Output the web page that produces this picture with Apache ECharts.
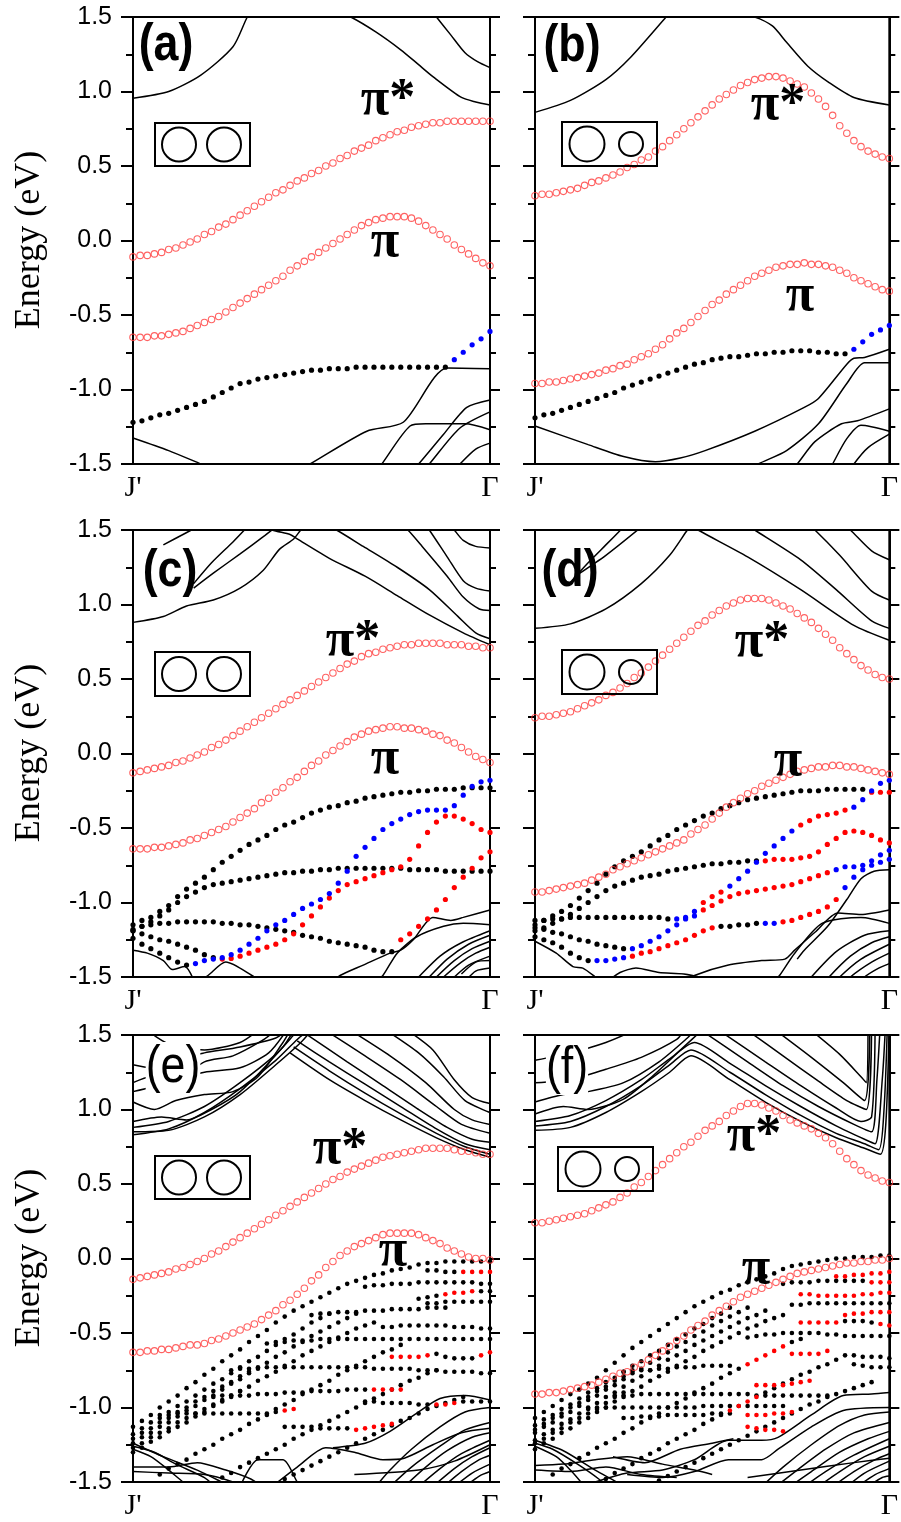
<!DOCTYPE html>
<html><head><meta charset="utf-8">
<script src="https://cdn.jsdelivr.net/npm/echarts/dist/echarts.min.js"></script>
<style>html,body{margin:0;padding:0;background:#fff}#c{width:901px;height:1522px}</style>
</head><body><div id="c"></div>
<script>
function pad(n, vals){ return new Array(n).fill(null).concat(vals); }
const kLabels = ["J'", "Γ"];
const yLabelsMin = -1.5, yLabelsMax = 1.5, yStep = 0.5;

// ---------- (a) ----------
const aPiStar = [-0.11,-0.10,-0.10,-0.09,-0.08,-0.06,-0.05,-0.03,-0.01,0.01,0.04,0.06,0.09,0.11,0.14,0.17,0.20,0.23,0.26,0.29,0.32,0.34,0.37,0.40,0.42,0.45,0.47,0.50,0.52,0.55,0.57,0.60,0.62,0.64,0.67,0.69,0.71,0.73,0.74,0.76,0.77,0.78,0.79,0.79,0.80,0.80,0.80,0.80,0.80,0.80,0.80];
const aPi = [-0.65,-0.65,-0.65,-0.64,-0.64,-0.63,-0.62,-0.61,-0.59,-0.57,-0.55,-0.53,-0.51,-0.48,-0.45,-0.42,-0.39,-0.36,-0.33,-0.30,-0.27,-0.24,-0.20,-0.17,-0.14,-0.11,-0.08,-0.05,-0.02,0.01,0.04,0.07,0.10,0.12,0.14,0.15,0.16,0.16,0.16,0.15,0.13,0.10,0.07,0.04,0.01,-0.03,-0.06,-0.09,-0.12,-0.15,-0.17];
const aBand = [-1.22,-1.21,-1.19,-1.17,-1.16,-1.14,-1.12,-1.10,-1.08,-1.05,-1.02,-0.99,-0.96,-0.95,-0.93,-0.92,-0.91,-0.90,-0.89,-0.88,-0.87,-0.87,-0.86,-0.86,-0.86,-0.85,-0.85,-0.85,-0.85,-0.85,-0.85,-0.85,-0.85,-0.85,-0.85,-0.85,-0.80,-0.75,-0.70,-0.66,-0.61];
const aBandCol = [[36,40,'b']];
const aC1 = [[0,0.955],[0.1,1.0],[0.19,1.11],[0.28,1.30],[0.32,1.5],[0.35,1.62]];
const aC2 = [[0.55,1.56],[0.61,1.5],[0.68,1.40],[0.75,1.28],[0.80,1.18],[0.84,1.10],[0.92,0.96],[0.96,0.93],[1.0,0.91]];
const aC3 = [[0.83,1.56],[0.85,1.5],[0.89,1.38],[0.93,1.26],[0.965,1.2],[1.0,1.16]];
const aV1 = [[0,-1.325],[0.1,-1.41],[0.19,-1.5],[0.25,-1.56]];
const aV2 = [[0.45,-1.56],[0.496,-1.5],[0.655,-1.28],[0.757,-1.22],[0.88,-0.855],[1.0,-0.86]];
const aV3 = [[0.68,-1.55],[0.697,-1.5],[0.776,-1.245],[0.82,-1.23],[0.93,-1.23],[1.0,-1.27]];
const aV4 = [[0.78,-1.55],[0.80,-1.5],[0.87,-1.30],[0.935,-1.12],[1.0,-1.07]];
const aV5 = [[0.81,-1.55],[0.83,-1.5],[0.915,-1.26],[1.0,-1.15]];
const aV6 = [[0.9,-1.55],[0.916,-1.5],[0.96,-1.40],[1.0,-1.36]];

// ---------- (b) ----------
const bPiStar = [0.30,0.31,0.31,0.32,0.33,0.34,0.35,0.37,0.39,0.40,0.42,0.44,0.46,0.49,0.51,0.54,0.56,0.60,0.63,0.67,0.71,0.75,0.79,0.83,0.87,0.91,0.95,0.98,1.01,1.04,1.06,1.08,1.09,1.10,1.10,1.09,1.07,1.05,1.03,0.99,0.95,0.90,0.84,0.77,0.72,0.67,0.63,0.60,0.58,0.56,0.55];
const bPi = [-0.96,-0.96,-0.95,-0.95,-0.94,-0.93,-0.92,-0.91,-0.90,-0.89,-0.87,-0.86,-0.84,-0.83,-0.80,-0.78,-0.76,-0.73,-0.70,-0.66,-0.62,-0.59,-0.55,-0.51,-0.47,-0.43,-0.40,-0.36,-0.33,-0.30,-0.27,-0.24,-0.22,-0.20,-0.18,-0.17,-0.16,-0.16,-0.15,-0.16,-0.16,-0.17,-0.18,-0.20,-0.22,-0.25,-0.27,-0.29,-0.31,-0.33,-0.34];
const bBand = [-1.19,-1.17,-1.16,-1.14,-1.12,-1.10,-1.08,-1.06,-1.04,-1.02,-0.99,-0.97,-0.95,-0.93,-0.91,-0.89,-0.87,-0.85,-0.83,-0.82,-0.80,-0.79,-0.78,-0.78,-0.77,-0.76,-0.76,-0.75,-0.75,-0.74,-0.74,-0.74,-0.75,-0.75,-0.76,-0.76,-0.73,-0.68,-0.63,-0.60,-0.57];
const bBandCol = [[36,40,'b']];
const bC1 = [[0,0.86],[0.1,0.94],[0.2,1.08],[0.27,1.23],[0.37,1.5],[0.4,1.58]];
const bC2 = [[0.55,1.53],[0.62,1.5],[0.67,1.44],[0.71,1.33],[0.77,1.17],[0.83,1.06],[0.9,0.96],[1.0,0.91]];
const bV1 = [[0,-1.245],[0.15,-1.37],[0.25,-1.45],[0.34,-1.485],[0.41,-1.46],[0.48,-1.41],[0.62,-1.28],[0.76,-1.12],[0.8,-1.06],[0.88,-0.83],[0.9,-0.79],[0.93,-0.785],[1.0,-0.73]];
const bV2 = [[0.6,-1.55],[0.63,-1.5],[0.71,-1.41],[0.80,-1.23],[0.88,-0.96],[0.93,-0.82],[1.0,-0.82]];
const bV3 = [[0.72,-1.55],[0.74,-1.5],[0.79,-1.35],[0.865,-1.23],[0.91,-1.21],[1.0,-1.13]];
const bV4 = [[0.83,-1.55],[0.84,-1.5],[0.88,-1.33],[0.92,-1.24],[1.0,-1.28]];
const bV5 = [[0.89,-1.55],[0.90,-1.5],[0.94,-1.39],[1.0,-1.30]];

// ---------- (c) ----------
const cPiStar = [-0.13,-0.12,-0.11,-0.10,-0.09,-0.08,-0.06,-0.05,-0.03,-0.01,0.01,0.04,0.06,0.09,0.12,0.15,0.18,0.21,0.24,0.27,0.30,0.33,0.36,0.39,0.42,0.45,0.48,0.51,0.54,0.57,0.60,0.62,0.65,0.67,0.68,0.70,0.71,0.72,0.73,0.73,0.74,0.74,0.74,0.74,0.73,0.73,0.73,0.72,0.72,0.71,0.71];
const cPi = [-0.64,-0.64,-0.64,-0.63,-0.63,-0.62,-0.61,-0.60,-0.58,-0.57,-0.55,-0.53,-0.51,-0.49,-0.46,-0.43,-0.40,-0.37,-0.33,-0.30,-0.26,-0.23,-0.19,-0.16,-0.12,-0.08,-0.05,-0.01,0.02,0.05,0.08,0.11,0.13,0.15,0.16,0.17,0.18,0.18,0.17,0.17,0.16,0.15,0.13,0.12,0.09,0.07,0.04,0.01,-0.02,-0.04,-0.06];
const cB1 = [-1.15,-1.12,-1.10,-1.06,-1.02,-0.96,-0.91,-0.87,-0.83,-0.78,-0.73,-0.69,-0.65,-0.61,-0.58,-0.55,-0.51,-0.48,-0.46,-0.43,-0.40,-0.38,-0.36,-0.35,-0.33,-0.32,-0.30,-0.29,-0.28,-0.27,-0.26,-0.26,-0.25,-0.25,-0.24,-0.24,-0.24,-0.23,-0.23,-0.23,-0.23];
const cB2 = [-1.19,-1.16,-1.13,-1.09,-1.05,-1.00,-0.96,-0.93,-0.90,-0.88,-0.87,-0.86,-0.85,-0.84,-0.83,-0.82,-0.81,-0.80,-0.80,-0.79,-0.79,-0.78,-0.78,-0.77,-0.77,-0.77,-0.77,-0.77,-0.77,-0.77,-0.77,-0.78,-0.78,-0.78,-0.78,-0.79,-0.79,-0.79,-0.79,-0.79,-0.79];
const cB3 = [-1.18,-1.16,-1.15,-1.14,-1.14,-1.13,-1.13,-1.13,-1.13,-1.13,-1.14,-1.14,-1.15,-1.15,-1.16,-1.17,-1.18,-1.19,-1.20,-1.22,-1.23,-1.24,-1.26,-1.27,-1.28,-1.29,-1.30,-1.32,-1.33,-1.33,-1.25,-1.21,-1.16,-1.11,-1.05,-0.98,-0.90,-0.83,-0.77,-0.70,-0.66];
const cB3Col = [[30,40,'r']];
const cB4 = [-1.19,-1.21,-1.23,-1.25,-1.26,-1.28,-1.30,-1.32,-1.35,-1.37,-1.38,-1.375,-1.36,-1.34,-1.32,-1.30,-1.28,-1.25,-1.21,-1.15,-1.09,-1.03,-0.97,-0.92,-0.88,-0.86,-0.84,-0.82,-0.80,-0.78,-0.76,-0.71,-0.62,-0.53,-0.46,-0.42,-0.42,-0.44,-0.47,-0.51,-0.53];
const cB4Col = [[10,40,'r']];
const cB5 = [-1.24,-1.28,-1.31,-1.34,-1.37,-1.40,-1.42,-1.41,-1.39,-1.38,-1.37,-1.35,-1.32,-1.28,-1.24,-1.19,-1.15,-1.12,-1.08,-1.04,-1.01,-0.98,-0.94,-0.87,-0.79,-0.69,-0.63,-0.57,-0.51,-0.47,-0.44,-0.41,-0.39,-0.38,-0.38,-0.38,-0.35,-0.28,-0.22,-0.19,-0.18];
const cB5Col = [[7,40,'b']];
const cT1 = [[0,0.88],[0.085,0.92],[0.15,0.99],[0.225,1.03],[0.30,1.11],[0.365,1.23],[0.41,1.37],[0.45,1.44],[0.47,1.5],[0.49,1.55]];
const cT2 = [[0.34,1.56],[0.39,1.50],[0.44,1.47],[0.46,1.44],[0.55,1.31],[0.65,1.19],[0.74,1.06],[0.83,0.93],[0.925,0.81],[1.0,0.73]];
const cT3 = [[0.52,1.56],[0.57,1.5],[0.645,1.39],[0.74,1.25],[0.83,1.10],[0.91,0.92],[0.96,0.81],[1.0,0.77]];
const cT4 = [[0.74,1.56],[0.77,1.5],[0.81,1.39],[0.88,1.19],[0.925,1.05],[0.97,0.97],[1.0,0.96]];
const cT5 = [[0.81,1.56],[0.83,1.5],[0.88,1.32],[0.925,1.16],[0.96,1.11],[1.0,1.09]];
const cT6 = [[0.88,1.56],[0.90,1.5],[0.925,1.43],[0.96,1.39],[1.0,1.38]];
const cT7 = [[0.17,1.11],[0.225,1.21],[0.30,1.34],[0.365,1.455],[0.40,1.52]];
const cT8 = [[0.17,1.14],[0.22,1.28],[0.28,1.42],[0.32,1.52]];
const cT9 = [[0.085,1.40],[0.14,1.47],[0.18,1.52]];
const cV1 = [[0,-1.32],[0.04,-1.34],[0.085,-1.39],[0.11,-1.45],[0.145,-1.43],[0.17,-1.52]];
const cV2 = [[0.19,-1.52],[0.21,-1.49],[0.26,-1.40],[0.34,-1.50],[0.36,-1.53]];
const cV3 = [[0.56,-1.53],[0.58,-1.49],[0.645,-1.42],[0.72,-1.34],[0.75,-1.32],[0.785,-1.25],[0.84,-1.10],[0.89,-1.12],[0.925,-1.10],[1.0,-1.05]];
const cV4 = [[0.68,-1.53],[0.70,-1.49],[0.74,-1.34],[0.795,-1.23],[0.87,-1.16],[0.925,-1.14],[1.0,-1.15]];
const cV5 = [[0.79,-1.53],[0.80,-1.5],[0.86,-1.36],[0.92,-1.27],[1.0,-1.19]];
const cV6 = [[0.82,-1.53],[0.83,-1.5],[0.88,-1.38],[0.94,-1.28],[1.0,-1.22]];
const cV7 = [[0.84,-1.53],[0.85,-1.5],[0.90,-1.39],[0.95,-1.31],[1.0,-1.26]];
const cV8 = [[0.86,-1.53],[0.87,-1.5],[0.92,-1.40],[0.96,-1.34],[1.0,-1.30]];
const cV9 = [[0.89,-1.53],[0.90,-1.5],[0.94,-1.42],[1.0,-1.36]];
const cV10 = [[0.92,-1.48],[0.96,-1.40],[1.0,-1.39]];
const cV11 = [[0.93,-1.53],[0.96,-1.46],[1.0,-1.44]];

// ---------- (d) ----------
const dPiStar = [0.24,0.25,0.25,0.26,0.27,0.28,0.30,0.32,0.34,0.36,0.39,0.41,0.44,0.47,0.51,0.54,0.58,0.62,0.66,0.70,0.74,0.78,0.82,0.86,0.89,0.93,0.96,0.99,1.01,1.03,1.04,1.04,1.04,1.03,1.01,0.99,0.97,0.94,0.91,0.88,0.84,0.80,0.76,0.71,0.67,0.63,0.59,0.56,0.53,0.51,0.50];
const dPi = [-0.93,-0.93,-0.92,-0.91,-0.90,-0.89,-0.88,-0.87,-0.85,-0.83,-0.81,-0.78,-0.76,-0.74,-0.72,-0.70,-0.68,-0.66,-0.64,-0.62,-0.60,-0.58,-0.54,-0.51,-0.48,-0.44,-0.40,-0.36,-0.33,-0.30,-0.27,-0.25,-0.22,-0.20,-0.18,-0.16,-0.14,-0.12,-0.11,-0.10,-0.09,-0.09,-0.08,-0.08,-0.09,-0.09,-0.10,-0.11,-0.12,-0.13,-0.14];
const dB1 = [-1.15,-1.12,-1.09,-1.06,-1.02,-0.97,-0.92,-0.87,-0.81,-0.76,-0.72,-0.69,-0.66,-0.62,-0.58,-0.55,-0.51,-0.48,-0.45,-0.42,-0.40,-0.37,-0.35,-0.33,-0.31,-0.30,-0.29,-0.28,-0.27,-0.26,-0.25,-0.25,-0.25,-0.24,-0.24,-0.24,-0.24,-0.24,-0.26,-0.26,-0.26];
const dB1Col = [[38,40,'r']];
const dB2 = [-1.19,-1.17,-1.14,-1.11,-1.08,-1.04,-1.00,-0.96,-0.92,-0.89,-0.87,-0.85,-0.83,-0.82,-0.81,-0.79,-0.78,-0.77,-0.76,-0.75,-0.74,-0.74,-0.73,-0.73,-0.72,-0.72,-0.72,-0.71,-0.71,-0.71,-0.70,-0.69,-0.66,-0.61,-0.57,-0.53,-0.52,-0.53,-0.55,-0.58,-0.60];
const dB2Col = [[26,40,'r']];
const dB3 = [-1.17,-1.18,-1.20,-1.21,-1.23,-1.25,-1.26,-1.28,-1.29,-1.30,-1.31,-1.31,-1.29,-1.26,-1.23,-1.19,-1.15,-1.11,-1.06,-1.00,-0.96,-0.93,-0.89,-0.84,-0.79,-0.73,-0.67,-0.62,-0.57,-0.52,-0.48,-0.45,-0.42,-0.41,-0.40,-0.38,-0.36,-0.31,-0.25,-0.20,-0.18];
const dB3Col = [[11,18,'b'],[19,21,'r'],[22,29,'b'],[30,35,'r'],[36,40,'b']];
const dB4 = [-1.23,-1.25,-1.27,-1.30,-1.34,-1.37,-1.39,-1.39,-1.39,-1.38,-1.37,-1.36,-1.34,-1.33,-1.31,-1.29,-1.27,-1.25,-1.22,-1.19,-1.17,-1.16,-1.16,-1.15,-1.15,-1.14,-1.14,-1.14,-1.13,-1.12,-1.10,-1.08,-1.06,-1.03,-0.98,-0.90,-0.83,-0.78,-0.75,-0.73,-0.71];
const dB4Col = [[7,10,'b'],[11,20,'r'],[26,27,'b'],[28,34,'r'],[35,40,'b']];
const dB5 = [-1.12,-1.12,-1.11,-1.11,-1.10,-1.10,-1.10,-1.10,-1.10,-1.10,-1.10,-1.10,-1.10,-1.10,-1.10,-1.11,-1.11,-1.10,-1.09,-1.05,-1.02,-0.99,-0.96,-0.94,-0.93,-0.92,-0.91,-0.90,-0.89,-0.88,-0.86,-0.84,-0.82,-0.80,-0.78,-0.76,-0.76,-0.75,-0.72,-0.68,-0.65];
const dB5Col = [[16,18,'b'],[19,33,'r'],[34,40,'b']];
const dT1 = [[0,0.84],[0.1,0.87],[0.2,0.97],[0.3,1.14],[0.38,1.33],[0.43,1.5],[0.45,1.56]];
const dT2 = [[0.1,1.15],[0.15,1.28],[0.2,1.40],[0.25,1.52]];
const dT3 = [[0.12,1.2],[0.2,1.33],[0.3,1.52]];
const dT4 = [[0.42,1.56],[0.46,1.5],[0.6,1.32],[0.75,1.10],[0.9,0.86],[1.0,0.76]];
const dT5 = [[0.58,1.56],[0.62,1.5],[0.75,1.30],[0.85,1.10],[0.95,0.89],[1.0,0.84]];
const dT6 = [[0.76,1.56],[0.79,1.5],[0.86,1.33],[0.95,1.09],[1.0,1.03]];
const dT7 = [[0.86,1.56],[0.89,1.5],[0.95,1.36],[1.0,1.30]];
const dV1 = [[0,-1.26],[0.06,-1.34],[0.107,-1.43],[0.135,-1.44],[0.17,-1.5],[0.19,-1.54]];
const dV2 = [[0.2,-1.54],[0.24,-1.47],[0.285,-1.44],[0.35,-1.47],[0.42,-1.48],[0.5,-1.52]];
const dV3 = [[0.42,-1.54],[0.45,-1.49],[0.546,-1.42],[0.64,-1.39],[0.705,-1.38],[0.733,-1.32],[0.79,-1.20],[0.855,-1.07],[0.92,-1.08],[1.0,-1.05]];
const dV4 = [[0.74,-1.38],[0.76,-1.32],[0.826,-1.16],[0.88,-0.98],[0.92,-0.84],[0.957,-0.79],[1.0,-0.78]];
const dV5 = [[0.67,-1.54],[0.69,-1.49],[0.733,-1.34],[0.81,-1.14],[0.92,-1.10],[1.0,-1.14]];
const dV6 = [[0.77,-1.54],[0.78,-1.5],[0.85,-1.33],[0.93,-1.22],[1.0,-1.19]];
const dV7 = [[0.82,-1.54],[0.83,-1.5],[0.89,-1.36],[0.95,-1.27],[1.0,-1.23]];
const dV8 = [[0.85,-1.54],[0.86,-1.5],[0.92,-1.38],[1.0,-1.28]];
const dV9 = [[0.88,-1.54],[0.89,-1.5],[0.95,-1.40],[1.0,-1.34]];
const dV10 = [[0.92,-1.54],[0.93,-1.5],[0.97,-1.44],[1.0,-1.41]];

// ---------- (e) ----------
const ePiStar = [-0.14,-0.13,-0.12,-0.11,-0.10,-0.09,-0.07,-0.06,-0.04,-0.02,0.00,0.03,0.05,0.08,0.11,0.14,0.17,0.20,0.23,0.26,0.29,0.32,0.35,0.38,0.41,0.44,0.47,0.50,0.53,0.55,0.58,0.60,0.62,0.64,0.66,0.68,0.69,0.70,0.71,0.72,0.73,0.74,0.74,0.74,0.74,0.73,0.72,0.72,0.71,0.70,0.70];
const ePi = [-0.63,-0.63,-0.62,-0.62,-0.61,-0.61,-0.60,-0.59,-0.58,-0.58,-0.57,-0.55,-0.54,-0.52,-0.50,-0.48,-0.46,-0.44,-0.41,-0.38,-0.35,-0.31,-0.28,-0.24,-0.20,-0.15,-0.11,-0.06,-0.02,0.02,0.05,0.08,0.10,0.12,0.14,0.16,0.17,0.17,0.17,0.17,0.16,0.14,0.12,0.10,0.07,0.05,0.03,0.01,0.00,0.00,-0.01];
const eTop = [-1.13,-1.09,-1.05,-1.00,-0.96,-0.92,-0.87,-0.83,-0.78,-0.74,-0.69,-0.65,-0.61,-0.56,-0.52,-0.48,-0.43,-0.39,-0.35,-0.32,-0.29,-0.26,-0.23,-0.20,-0.17,-0.15,-0.13,-0.11,-0.10,-0.08,-0.07,-0.06,-0.04,-0.03,-0.03,-0.02,-0.02,-0.02,-0.02,-0.02,-0.02];
const eH2 = pad(33, [-0.08,-0.08,-0.09,-0.09,-0.09,-0.09,-0.09,-0.09]);
const eH3 = pad(26, [-0.19,-0.18,-0.18,-0.17,-0.17,-0.17,-0.16,-0.16,-0.16,-0.16,-0.16,-0.16,-0.16,-0.17,-0.17]);
const eH4 = pad(32, [-0.27,-0.26,-0.25,-0.24,-0.23,-0.23,-0.22,-0.22,-0.22]);
const eH5 = pad(33, [-0.30,-0.30,-0.29,-0.29,-0.29,-0.29,-0.29,-0.29]);
const eH6 = pad(20, [-0.38,-0.37,-0.37,-0.36,-0.36,-0.36,-0.35,-0.35,-0.35,-0.34,-0.34,-0.34,-0.34,-0.33,-0.33,-0.33]);
const eH7 = pad(28, [-0.46,-0.46,-0.45,-0.45,-0.45,-0.45,-0.45,-0.45,-0.46,-0.46,-0.46,-0.47,-0.47]);
const eH8 = pad(15, [-0.57,-0.56,-0.56,-0.55,-0.55,-0.55,-0.54,-0.54,-0.54,-0.54,-0.54,-0.54,-0.54,-0.54,-0.54,-0.54,-0.54,-0.54,-0.54,-0.54,-0.54,-0.54,-0.54,-0.54,-0.54,-0.54]);
const eH9 = pad(29, [-0.66,-0.66,-0.66,-0.66,-0.65,-0.64,-0.66,-0.67,-0.67,-0.67,-0.65,-0.63]);
const eH10 = pad(11, [-0.75,-0.74,-0.74,-0.73,-0.73,-0.73,-0.73,-0.73,-0.73,-0.73,-0.73,-0.73,-0.73,-0.73,-0.73,-0.73,-0.74,-0.74,-0.74,-0.74,-0.74,-0.75,-0.75,-0.75,-0.76,-0.76,-0.76,-0.76,-0.77,-0.77]);
const eH11 = pad(9, [-0.93,-0.92,-0.92,-0.92,-0.92,-0.91,-0.91,-0.91,-0.90,-0.90,-0.90,-0.89,-0.89,-0.89,-0.89,-0.88,-0.88,-0.88,-0.88,-0.88,-0.88,-0.88]);
const eH12 = pad(26, [-0.96,-0.96,-0.97,-0.97,-0.97,-0.97,-0.98,-0.98,-0.98,-0.98,-0.97,-0.96,-0.96,-0.96,-0.96]);
const eH13 = pad(3, [-1.05,-1.05,-1.04,-1.04,-1.04,-1.04,-1.04,-1.04,-1.04,-1.04,-1.04,-1.04,-1.04,-1.03,-1.02,-1.01]);
const eH14 = pad(17, [-1.13,-1.13,-1.13,-1.13,-1.14,-1.14,-1.14,-1.14,-1.15,-1.14,-1.13,-1.12,-1.11]);
const eD1 = [-1.18,-1.14,-1.10,-1.07,-1.03,-0.99,-0.96,-0.92,-0.88,-0.84,-0.81,-0.77,-0.73,-0.69,-0.66,-0.62,-0.58,-0.54,-0.51,-0.47,-0.43,-0.40,-0.37];
const eD2 = [-1.24,-1.20,-1.17,-1.13,-1.10,-1.06,-1.02,-0.99,-0.95,-0.92,-0.88,-0.84,-0.81,-0.77,-0.74,-0.70,-0.66,-0.63,-0.59,-0.56,-0.52,-0.49,-0.46,-0.43,-0.40,-0.37];
const eD3 = [-1.30,-1.27,-1.23,-1.20,-1.16,-1.13,-1.10,-1.06,-1.03,-0.99,-0.96,-0.93,-0.89,-0.86,-0.82,-0.79,-0.76,-0.72,-0.69,-0.65,-0.62,-0.59,-0.56,-0.53,-0.50,-0.47,-0.45,-0.43];
const eD4 = pad(3, [-1.45,-1.41,-1.38,-1.35,-1.31,-1.28,-1.25,-1.21,-1.18,-1.15,-1.11,-1.08,-1.05,-1.01,-0.98,-0.95,-0.91,-0.88,-0.85,-0.82,-0.78,-0.75,-0.72,-0.69,-0.66,-0.63,-0.61,-0.58]);
const eD5 = pad(10, [-1.47,-1.44,-1.40,-1.37,-1.34,-1.31,-1.28,-1.25,-1.21,-1.18,-1.15,-1.12,-1.09,-1.06,-1.03,-1.00,-0.97,-0.94,-0.91,-0.88,-0.85,-0.82,-0.80,-0.77,-0.75]);
const eD6 = pad(17, [-1.48,-1.45,-1.42,-1.39,-1.36,-1.33,-1.30,-1.27,-1.24,-1.21,-1.18,-1.15,-1.12,-1.09,-1.07,-1.04,-1.01,-0.99,-0.97,-0.95,-0.93]);
const eD7 = [-1.21,-1.17,-1.14,-1.10,-1.07,-1.03,-1.00,-0.96,-0.93,-0.89,-0.86,-0.83,-0.79,-0.76];
const eD8 = [-1.27,-1.24,-1.20,-1.17,-1.14,-1.10,-1.07,-1.04,-1.01,-0.98,-0.95,-0.92,-0.89];
const eT1 = [[0,0.85],[0.1,0.86],[0.2,0.95],[0.3,1.10],[0.4,1.30],[0.47,1.45],[0.5,1.53]];
const eT2 = [[0,0.83],[0.1,0.87],[0.2,0.98],[0.3,1.14],[0.4,1.33],[0.46,1.47],[0.49,1.53]];
const eT3 = [[0,0.88],[0.1,0.92],[0.2,1.02],[0.3,1.18],[0.4,1.37],[0.45,1.5],[0.46,1.53]];
const eT4 = [[0,0.92],[0.08,0.95],[0.15,0.93],[0.22,1.0],[0.3,1.12],[0.42,1.42],[0.45,1.53]];
const eT5 = [[0,1.05],[0.06,1.0],[0.12,1.06],[0.2,1.10],[0.28,1.12],[0.35,1.22],[0.42,1.45],[0.44,1.53]];
const eT6 = [[0,1.12],[0.1,1.18],[0.2,1.25],[0.3,1.28],[0.38,1.38],[0.43,1.53]];
const eT7 = [[0,1.30],[0.05,1.28],[0.1,1.33],[0.2,1.38],[0.3,1.42],[0.4,1.48],[0.43,1.53]];
const eT8 = [[0.04,1.53],[0.1,1.44],[0.2,1.40],[0.3,1.45],[0.35,1.53]];
const eT9 = [[0,1.18],[0.05,1.22],[0.12,1.2],[0.2,1.32],[0.28,1.36],[0.36,1.46],[0.4,1.53]];
const eR1 = [[0.44,1.38],[0.55,1.20],[0.65,1.06],[0.75,0.93],[0.85,0.81],[0.93,0.73],[1.0,0.68]];
const eR2 = [[0.45,1.42],[0.55,1.26],[0.65,1.11],[0.75,0.97],[0.85,0.84],[0.93,0.75],[1.0,0.70]];
const eR3 = [[0.46,1.46],[0.55,1.32],[0.65,1.17],[0.75,1.02],[0.85,0.87],[0.93,0.77],[1.0,0.73]];
const eR4 = [[0.47,1.53],[0.6,1.32],[0.7,1.16],[0.8,1.0],[0.88,0.88],[0.95,0.80],[1.0,0.78]];
const eR5 = [[0.54,1.53],[0.65,1.36],[0.75,1.2],[0.85,1.02],[0.92,0.90],[1.0,0.84]];
const eR6 = [[0.61,1.53],[0.72,1.36],[0.82,1.18],[0.9,1.0],[0.95,0.93],[1.0,0.90]];
const eR7 = [[0.71,1.53],[0.8,1.38],[0.87,1.22],[0.93,1.06],[1.0,0.98]];
const eR8 = [[0.77,1.53],[0.84,1.4],[0.9,1.2],[0.95,1.08],[1.0,1.04]];
const eV1 = [[0,-1.24],[0.085,-1.33],[0.18,-1.42],[0.24,-1.49],[0.27,-1.53]];
const eV2 = [[0,-1.26],[0.06,-1.30],[0.12,-1.38],[0.2,-1.47],[0.23,-1.53]];
const eV3 = [[0,-1.28],[0.05,-1.33],[0.1,-1.42],[0.14,-1.5],[0.16,-1.53]];
const eV4 = [[0,-1.40],[0.1,-1.40],[0.18,-1.37],[0.26,-1.42],[0.33,-1.48],[0.36,-1.53]];
const eV5 = [[0,-1.43],[0.1,-1.44],[0.2,-1.45],[0.28,-1.5],[0.3,-1.53]];
const eV6 = [[0.3,-1.53],[0.35,-1.35],[0.42,-1.35],[0.46,-1.5],[0.47,-1.53]];
const eV7 = [[0.39,-1.53],[0.46,-1.40],[0.54,-1.27],[0.62,-1.30],[0.70,-1.35],[0.76,-1.34],[0.84,-1.25],[0.92,-1.17],[1.0,-1.14]];
const eV8 = [[0.56,-1.27],[0.65,-1.24],[0.72,-1.16],[0.8,-1.03],[0.86,-0.94],[0.93,-0.92],[1.0,-0.95]];
const eV9 = [[0.68,-1.53],[0.72,-1.42],[0.78,-1.28],[0.86,-1.13],[0.93,-1.03],[1.0,-1.00]];
const eV10 = [[0.72,-1.53],[0.78,-1.40],[0.86,-1.26],[0.93,-1.15],[1.0,-1.10]];
const eV11 = [[0.76,-1.53],[0.82,-1.40],[0.88,-1.29],[0.95,-1.20],[1.0,-1.17]];
const eV12 = [[0.80,-1.53],[0.86,-1.41],[0.92,-1.31],[1.0,-1.22]];
const eV13 = [[0.84,-1.53],[0.9,-1.41],[0.95,-1.33],[1.0,-1.27]];
const eV14 = [[0.87,-1.53],[0.92,-1.43],[0.97,-1.35],[1.0,-1.32]];
const eV15 = [[0.9,-1.53],[0.95,-1.44],[1.0,-1.38]];
const eV16 = [[0.93,-1.53],[0.97,-1.46],[1.0,-1.43]];
const eV17 = [[0.62,-1.45],[0.8,-1.42],[0.9,-1.36],[1.0,-1.25]];

// ---------- (f) ----------
const fPiStar = [0.24,0.24,0.25,0.26,0.27,0.28,0.29,0.30,0.32,0.34,0.36,0.38,0.41,0.44,0.48,0.51,0.55,0.59,0.63,0.67,0.71,0.75,0.78,0.82,0.86,0.89,0.92,0.96,0.99,1.02,1.04,1.04,1.03,1.01,0.99,0.96,0.93,0.91,0.89,0.87,0.84,0.81,0.77,0.72,0.67,0.63,0.59,0.56,0.54,0.52,0.51];
const fPi = [-0.91,-0.91,-0.90,-0.90,-0.89,-0.88,-0.87,-0.86,-0.85,-0.83,-0.81,-0.79,-0.77,-0.76,-0.73,-0.71,-0.68,-0.65,-0.62,-0.59,-0.55,-0.52,-0.48,-0.45,-0.42,-0.38,-0.35,-0.32,-0.29,-0.26,-0.24,-0.22,-0.20,-0.18,-0.16,-0.14,-0.12,-0.10,-0.09,-0.08,-0.07,-0.06,-0.05,-0.04,-0.03,-0.03,-0.02,-0.02,-0.01,-0.01,0.00];
const fTop = [-1.07,-1.03,-0.99,-0.95,-0.91,-0.88,-0.84,-0.80,-0.75,-0.70,-0.65,-0.60,-0.56,-0.52,-0.48,-0.44,-0.40,-0.36,-0.32,-0.29,-0.26,-0.23,-0.21,-0.18,-0.16,-0.14,-0.12,-0.10,-0.07,-0.05,-0.04,-0.03,-0.02,-0.01,0.00,0.00,0.01,0.01,0.01,0.02,0.02];
const fH2 = pad(34, [-0.12,-0.12,-0.11,-0.11,-0.10,-0.10,-0.09]);
const fH3 = pad(28, [-0.17,-0.16,-0.16,-0.16,-0.15,-0.15,-0.15,-0.15,-0.15,-0.15,-0.16,-0.16,-0.16]);
const fH4 = pad(30, [-0.24,-0.24,-0.25,-0.25,-0.25,-0.25,-0.25,-0.24,-0.24,-0.23,-0.23]);
const fH5 = pad(29, [-0.31,-0.31,-0.30,-0.30,-0.30,-0.30,-0.30,-0.30,-0.30,-0.30,-0.30,-0.30]);
const fH6 = pad(35, [-0.38,-0.37,-0.37,-0.36,-0.36,-0.36]);
const fH7 = pad(30, [-0.43,-0.43,-0.43,-0.43,-0.43,-0.42,-0.42,-0.42,-0.43,-0.44,-0.45]);
const fH8 = pad(24, [-0.53,-0.52,-0.51,-0.51,-0.50,-0.50,-0.50,-0.50,-0.50,-0.51,-0.51,-0.52,-0.52,-0.52,-0.52,-0.52,-0.52]);
const fH9 = pad(29, [-0.64,-0.64,-0.64,-0.64,-0.62]);
const fH10 = pad(35, [-0.65,-0.65,-0.66,-0.66,-0.66,-0.67]);
const fH10b = pad(36, [-0.71,-0.72,-0.73,-0.73,-0.73]);
const fH11 = pad(10, [-0.76,-0.76,-0.75,-0.75,-0.74,-0.74,-0.73,-0.73,-0.73,-0.72,-0.72,-0.72,-0.72]);
const fH12 = pad(25, [-0.85,-0.85,-0.85,-0.85,-0.84,-0.83,-0.82]);
const fH13 = pad(9, [-0.92,-0.92,-0.92,-0.91,-0.91,-0.91,-0.91,-0.91,-0.91,-0.91,-0.91,-0.91,-0.91,-0.91,-0.91,-0.91,-0.92,-0.92,-0.92,-0.92,-0.92,-0.92,-0.92,-0.92,-0.92]);
const fH14 = pad(6, [-1.01,-1.01,-1.00,-1.00,-1.00,-1.00,-1.00,-1.00,-1.00,-1.00,-1.00,-1.00,-1.00,-0.99,-0.99,-0.99,-0.99,-0.99,-0.99,-0.99,-0.99,-0.99,-0.99]);
const fH15 = pad(24, [-1.05,-1.05,-1.05,-1.04,-1.04,-1.03]);
const fH16 = pad(24, [-1.13,-1.14,-1.15,-1.15,-1.16]);
const fH17 = pad(10, [-1.07,-1.07,-1.06,-1.06,-1.06,-1.05,-1.05,-1.05,-1.05,-1.05,-1.04,-1.04,-1.04]);
const fD1 = [-1.12,-1.08,-1.05,-1.01,-0.98,-0.94,-0.90,-0.87,-0.83,-0.80,-0.76,-0.72,-0.69,-0.65,-0.62,-0.58,-0.54,-0.51,-0.47,-0.44,-0.40,-0.37,-0.33];
const fD2 = [-1.17,-1.13,-1.10,-1.06,-1.03,-0.99,-0.95,-0.92,-0.88,-0.85,-0.81,-0.77,-0.74,-0.70,-0.67,-0.63,-0.59,-0.56,-0.52,-0.49,-0.45,-0.42,-0.39,-0.36,-0.33];
const fD3 = [-1.22,-1.18,-1.15,-1.11,-1.08,-1.04,-1.00,-0.97,-0.93,-0.90,-0.86,-0.82,-0.79,-0.75,-0.72,-0.68,-0.65,-0.62,-0.58,-0.55,-0.52,-0.49,-0.46,-0.43,-0.40,-0.38,-0.35];
const fD4 = [-1.28,-1.24,-1.21,-1.17,-1.14,-1.10,-1.07,-1.03,-1.00,-0.96,-0.93,-0.89,-0.86,-0.82,-0.79,-0.76,-0.72,-0.69,-0.66,-0.62,-0.59,-0.56,-0.53,-0.50,-0.47,-0.45,-0.42,-0.40,-0.38];
const fD5 = pad(2, [-1.45,-1.41,-1.38,-1.34,-1.31,-1.27,-1.24,-1.21,-1.17,-1.14,-1.10,-1.07,-1.04,-1.00,-0.97,-0.94,-0.90,-0.87,-0.84,-0.80,-0.77,-0.74,-0.71,-0.68,-0.65,-0.62,-0.59,-0.56,-0.54]);
const fD6 = pad(8, [-1.48,-1.44,-1.41,-1.38,-1.34,-1.31,-1.28,-1.24,-1.21,-1.18,-1.15,-1.11,-1.08,-1.05,-1.02,-0.99,-0.96,-0.93,-0.90,-0.87,-0.84,-0.81,-0.78,-0.76,-0.73,-0.71,-0.68]);
const fD7 = pad(14, [-1.49,-1.46,-1.43,-1.40,-1.37,-1.34,-1.31,-1.28,-1.25,-1.22,-1.19,-1.16,-1.13,-1.10,-1.07,-1.04,-1.01,-0.98,-0.96,-0.93,-0.91,-0.89,-0.87,-0.85,-0.83]);
const fD8 = [-1.15,-1.11,-1.07,-1.04,-1.00,-0.97,-0.93,-0.89,-0.86,-0.82,-0.79,-0.75];
const fD9 = [-1.24,-1.21,-1.17,-1.14,-1.10,-1.07,-1.04,-1.00,-0.97,-0.93,-0.90];
const fL1 = [[0,0.86],[0.1,0.88],[0.2,0.98],[0.3,1.12],[0.38,1.25],[0.44,1.36],[0.55,1.20],[0.65,1.05],[0.75,0.92],[0.85,0.81],[0.93,0.74],[0.975,0.70],[0.99,0.9],[1.0,1.6]];
const fL2 = [[0,0.89],[0.1,0.92],[0.2,1.02],[0.3,1.16],[0.38,1.30],[0.44,1.40],[0.55,1.25],[0.65,1.10],[0.75,0.96],[0.85,0.84],[0.93,0.77],[0.97,0.73],[0.985,1.0],[0.995,1.6]];
const fL3 = [[0,0.92],[0.1,0.96],[0.2,1.06],[0.3,1.20],[0.38,1.34],[0.45,1.45],[0.55,1.31],[0.65,1.16],[0.75,1.02],[0.85,0.89],[0.93,0.80],[0.96,0.77],[0.98,1.2],[0.99,1.6]];
const fL4 = [[0,0.97],[0.08,1.02],[0.15,1.0],[0.25,1.07],[0.33,1.22],[0.42,1.42],[0.47,1.53]];
const fL5 = [[0,1.05],[0.08,1.1],[0.15,1.12],[0.25,1.18],[0.35,1.32],[0.43,1.48],[0.45,1.53]];
const fL6 = [[0,1.18],[0.1,1.2],[0.2,1.27],[0.3,1.35],[0.4,1.47],[0.42,1.53]];
const fL7 = [[0,1.33],[0.1,1.38],[0.2,1.45],[0.28,1.53]];
const fL8 = [[0.47,1.53],[0.6,1.32],[0.7,1.16],[0.8,1.02],[0.9,0.90],[0.95,0.85],[0.965,1.2],[0.975,1.6]];
const fL9 = [[0.52,1.53],[0.65,1.32],[0.75,1.16],[0.85,1.01],[0.92,0.92],[0.95,0.95],[0.96,1.6]];
const fL10 = [[0.6,1.53],[0.7,1.36],[0.8,1.19],[0.88,1.06],[0.935,1.0],[0.95,1.6]];
const fL11 = [[0.68,1.53],[0.78,1.35],[0.87,1.18],[0.93,1.06],[0.945,1.6]];
const fL12 = [[0.78,1.53],[0.86,1.37],[0.92,1.22],[0.935,1.18],[0.94,1.6]];
const fV1 = [[0,-1.22],[0.08,-1.29],[0.17,-1.42],[0.23,-1.5],[0.25,-1.53]];
const fV2 = [[0,-1.24],[0.05,-1.28],[0.12,-1.38],[0.18,-1.48],[0.2,-1.53]];
const fV3 = [[0,-1.26],[0.06,-1.33],[0.1,-1.42],[0.14,-1.53]];
const fV4 = [[0,-1.39],[0.08,-1.38],[0.17,-1.35],[0.26,-1.33],[0.36,-1.38],[0.45,-1.42],[0.5,-1.45]];
const fV5 = [[0,-1.42],[0.1,-1.43],[0.2,-1.40],[0.3,-1.45],[0.4,-1.47]];
const fV6 = [[0.17,-1.50],[0.26,-1.44],[0.36,-1.42],[0.45,-1.35],[0.546,-1.22],[0.64,-1.22],[0.686,-1.20],[0.78,-1.05],[0.87,-0.92],[0.95,-0.91],[1.0,-0.90]];
const fV7 = [[0.22,-1.33],[0.31,-1.37],[0.41,-1.28],[0.50,-1.24],[0.56,-1.21]];
const fV8 = [[0.26,-1.45],[0.36,-1.47],[0.45,-1.43],[0.546,-1.35],[0.64,-1.35],[0.686,-1.28],[0.78,-1.13],[0.87,-1.02],[1.0,-1.00]];
const fV9 = [[0.64,-1.53],[0.70,-1.40],[0.78,-1.25],[0.86,-1.12],[0.93,-1.05],[1.0,-1.03]];
const fV10 = [[0.68,-1.53],[0.74,-1.42],[0.82,-1.28],[0.90,-1.17],[1.0,-1.10]];
const fV11 = [[0.72,-1.53],[0.78,-1.43],[0.86,-1.30],[0.94,-1.21],[1.0,-1.16]];
const fV12 = [[0.76,-1.53],[0.82,-1.43],[0.9,-1.32],[1.0,-1.21]];
const fV13 = [[0.80,-1.53],[0.86,-1.43],[0.93,-1.33],[1.0,-1.26]];
const fV14 = [[0.84,-1.53],[0.9,-1.43],[0.96,-1.35],[1.0,-1.31]];
const fV15 = [[0.88,-1.53],[0.93,-1.44],[1.0,-1.36]];
const fV16 = [[0.91,-1.53],[0.96,-1.45],[1.0,-1.41]];
const fV17 = [[0.94,-1.53],[0.98,-1.47],[1.0,-1.46]];
const fV18 = [[0.6,-1.47],[0.75,-1.42],[0.9,-1.37],[1.0,-1.34]];

// ---------- panel assembly ----------
const panels = [
  {circ:[aPi,aPiStar], bands:[[aBand,aBandCol]], lines:[aC1,aC2,aC3,aV1,aV2,aV3,aV4,aV5,aV6],
   label:'(a)', bold:true, lab:[166,46], ins:'eq', box:[155,123,95,43], ps:[388,101], p:[385,243]},
  {circ:[bPi,bPiStar], bands:[[bBand,bBandCol]], lines:[bC1,bC2,bV1,bV2,bV3,bV4,bV5],
   label:'(b)', bold:true, lab:[572,47], ins:'neq', box:[562,122,95,44], ps:[778,106], p:[800,297]},
  {circ:[cPi,cPiStar], bands:[[cB1,[]],[cB2,[]],[cB3,cB3Col],[cB4,cB4Col],[cB5,cB5Col]],
   lines:[cT1,cT2,cT3,cT4,cT5,cT6,cT7,cT8,cT9,cV1,cV2,cV3,cV4,cV5,cV6,cV7,cV8,cV9,cV10,cV11],
   label:'(c)', bold:true, lab:[170,572], ins:'eq', box:[155,652,95,44], ps:[353,642], p:[385,760]},
  {circ:[dPi,dPiStar], bands:[[dB1,dB1Col],[dB2,dB2Col],[dB3,dB3Col],[dB4,dB4Col],[dB5,dB5Col]],
   lines:[dT1,dT2,dT3,dT4,dT5,dT6,dT7,dV1,dV2,dV3,dV4,dV5,dV6,dV7,dV8,dV9,dV10],
   label:'(d)', bold:true, lab:[570,572], ins:'neq', box:[562,650,95,44], ps:[762,643], p:[788,762]},
  {circ:[ePi,ePiStar], bands:[[eTop,[]],[eH2,[[37,40,'r']]],[eH3,[]],[eH4,[[35,38,'r']]],[eH5,[]],[eH6,[]],[eH7,[]],[eH8,[]],
     [eH9,[[29,33,'r'],[39,40,'r']]],[eH10,[]],[eH11,[[27,30,'r']]],[eH12,[[34,36,'r']]],[eH13,[[17,18,'r']]],[eH14,[[25,29,'r']]],
     [eD1,[]],[eD2,[]],[eD3,[]],[eD4,[]],[eD5,[]],[eD6,[]],[eD7,[]],[eD8,[]]],
   lines:[eT1,eT2,eT3,eT4,eT5,eT6,eT7,eT8,eT9,eR1,eR2,eR3,eR4,eR5,eR6,eR7,eR8,eV1,eV2,eV3,eV4,eV5,eV6,eV7,eV8,eV9,eV10,eV11,eV12,eV13,eV14,eV15,eV16,eV17],
   label:'(e)', bold:false, lab:[173,1068], ins:'eq', box:[155,1156,95,43], ps:[340,1150], p:[393,1252]},
  {circ:[fPi,fPiStar], bands:[[fTop,[]],[fH2,[[34,40,'r']]],[fH3,[[38,40,'r']]],[fH4,[[30,40,'r']]],[fH5,[]],[fH6,[[35,40,'r']]],
     [fH7,[[30,34,'r'],[39,40,'r']]],[fH8,[]],[fH9,[[29,33,'r']]],[fH10,[]],[fH10b,[]],[fH11,[]],[fH12,[[25,31,'r']]],[fH13,[]],
     [fH14,[]],[fH15,[[24,29,'r']]],[fH16,[[24,28,'r']]],[fH17,[]],
     [fD1,[]],[fD2,[]],[fD3,[]],[fD4,[]],[fD5,[[24,28,'r']]],[fD6,[[22,25,'r']]],[fD7,[]],[fD8,[]],[fD9,[]]],
   lines:[fL1,fL2,fL3,fL4,fL5,fL6,fL7,fL8,fL9,fL10,fL11,fL12,fV1,fV2,fV3,fV4,fV5,fV6,fV7,fV8,fV9,fV10,fV11,fV12,fV13,fV14,fV15,fV16,fV17,fV18],
   label:'(f)', bold:false, lab:[567,1069], ins:'neq', box:[558,1147,95,44], ps:[754,1137], p:[756,1270]}
];

const COLS = [133, 535], ROWS = [17, 530, 1035], GW = 357, GH = 447;
const COLORS = {k:'#000000', b:'#0000ff', r:'#ff0000'};
const SERIF = 'Liberation Serif', SANS = 'Liberation Sans';

function pts(vals, n){ const o=[]; vals.forEach((v,i)=>{ if(v!==null && v!==undefined) o.push([i/n, v]); }); return o; }
function split(vals, segs){
  const o={k:[],b:[],r:[]};
  vals.forEach((v,i)=>{ if(v===null||v===undefined) return; let c='k'; segs.forEach(s=>{ if(i>=s[0]&&i<=s[1]) c=s[2]; }); o[c].push([i/40, v]); });
  return o;
}
function txt(x, y, text, family, size, weight, extra){
  return Object.assign({type:'text', x:x, y:y, z:20,
    style:{text:text, fontFamily:family, fontSize:size, fontWeight:weight, fill:'#000',
      align:'center', verticalAlign:'middle', textAlign:'center', textVerticalAlign:'middle'}}, extra||{});
}

const grid=[], xAxis=[], yAxis=[], series=[], graphic=[];
panels.forEach((P, p)=>{
  const col=p%2, row=Math.floor(p/2);
  grid.push({left:COLS[col], top:ROWS[row], width:GW, height:GH, show:true, borderColor:'#000', borderWidth:2, backgroundColor:'transparent'});
  xAxis.push({gridIndex:p, type:'value', min:0, max:1, interval:1,
    axisLine:{show:true, onZero:false, lineStyle:{color:'#000', width:2}}, axisTick:{show:false}, splitLine:{show:false},
    axisLabel:{show:true, showMinLabel:true, showMaxLabel:true, formatter:v=> v===0?kLabels[0]:(v===1?kLabels[1]:''),
      fontFamily:SERIF, fontSize:30, color:'#000', margin:9}});
  const yBase = {gridIndex:p, type:'value', min:yLabelsMin, max:yLabelsMax, interval:yStep,
    axisLine:{show:true, onZero:false, lineStyle:{color:'#000', width:2}},
    splitLine:{show:false}, minorSplitLine:{show:false}};
  yAxis.push(Object.assign({}, yBase, {position:'left',
    axisTick:{show:true, inside:false, length:12, lineStyle:{color:'#000', width:2}},
    minorTick:{show:true, splitNumber:2, length:7, lineStyle:{color:'#000', width:2}},
    axisLabel:{show: col===0, formatter:v=>v.toFixed(1), fontFamily:SANS, fontSize:25, color:'#000', margin:21}}));
  yAxis.push(Object.assign({}, yBase, {position:'right',
    axisTick:{show:true, inside:false, length:10, lineStyle:{color:'#000', width:2}},
    minorTick:{show:true, splitNumber:2, length:6, lineStyle:{color:'#000', width:2}},
    axisLabel:{show:false}}));
  const xi=p, yi=2*p;
  P.lines.forEach(L=>series.push({type:'line', xAxisIndex:xi, yAxisIndex:yi, data:L, smooth:0.25, showSymbol:false, symbol:'none',
    lineStyle:{color:'#000', width:1.5}, clip:true, silent:true, z:2, animation:false}));
  const groups={k:[],b:[],r:[]};
  P.bands.forEach(([vals,segs])=>{ const s=split(vals,segs); ['k','b','r'].forEach(c=>groups[c].push(...s[c])); });
  ['k','r','b'].forEach(c=>{ if(groups[c].length) series.push({type:'scatter', xAxisIndex:xi, yAxisIndex:yi, data:groups[c],
    symbol:'circle', symbolSize: p>=4?4.6:5.2, itemStyle:{color:COLORS[c], opacity:1}, clip:true, silent:true, z:3, animation:false}); });
  series.push({type:'scatter', xAxisIndex:xi, yAxisIndex:yi, data:pts(P.circ[0],50).concat(pts(P.circ[1],50)),
    symbol:'circle', symbolSize:6.5, itemStyle:{color:'rgba(255,255,255,0)', borderColor:'#ff3b3b', borderWidth:1.1}, silent:true, z:4, animation:false});

  // annotations
  const lab = txt(P.lab[0], P.lab[1], P.label, SANS, 52, P.bold?'bold':'normal', {scaleX:0.86});
  if(!P.bold){ lab.style.backgroundColor='#fff'; }
  graphic.push(lab);
  const b=P.box;
  graphic.push({type:'rect', z:20, shape:{x:b[0], y:b[1], width:b[2], height:b[3]}, style:{fill:'none', stroke:'#000', lineWidth:2}});
  const cy=b[1]+b[3]/2;
  if(P.ins==='eq'){
    graphic.push({type:'circle', z:20, shape:{cx:b[0]+24, cy:cy, r:17}, style:{fill:'none', stroke:'#000', lineWidth:2}});
    graphic.push({type:'circle', z:20, shape:{cx:b[0]+69, cy:cy, r:17}, style:{fill:'none', stroke:'#000', lineWidth:2}});
  } else {
    graphic.push({type:'circle', z:20, shape:{cx:b[0]+25, cy:cy, r:17.5}, style:{fill:'none', stroke:'#000', lineWidth:2}});
    graphic.push({type:'circle', z:20, shape:{cx:b[0]+69, cy:cy, r:12}, style:{fill:'none', stroke:'#000', lineWidth:2}});
  }
  graphic.push(txt(P.ps[0], P.ps[1], 'π*', SERIF, 52, 'bold'));
  graphic.push(txt(P.p[0], P.p[1], 'π', SERIF, 52, 'bold'));
});
[240, 753, 1258].forEach(cy=>graphic.push(txt(30, cy, 'Energy (eV)', SERIF, 36, 'normal', {rotation:Math.PI/2})));

const chart = echarts.init(document.getElementById('c'), null, {renderer:'canvas'});
chart.setOption({animation:false, backgroundColor:'#fff', grid, xAxis, yAxis, series, graphic});
</script></body></html>
